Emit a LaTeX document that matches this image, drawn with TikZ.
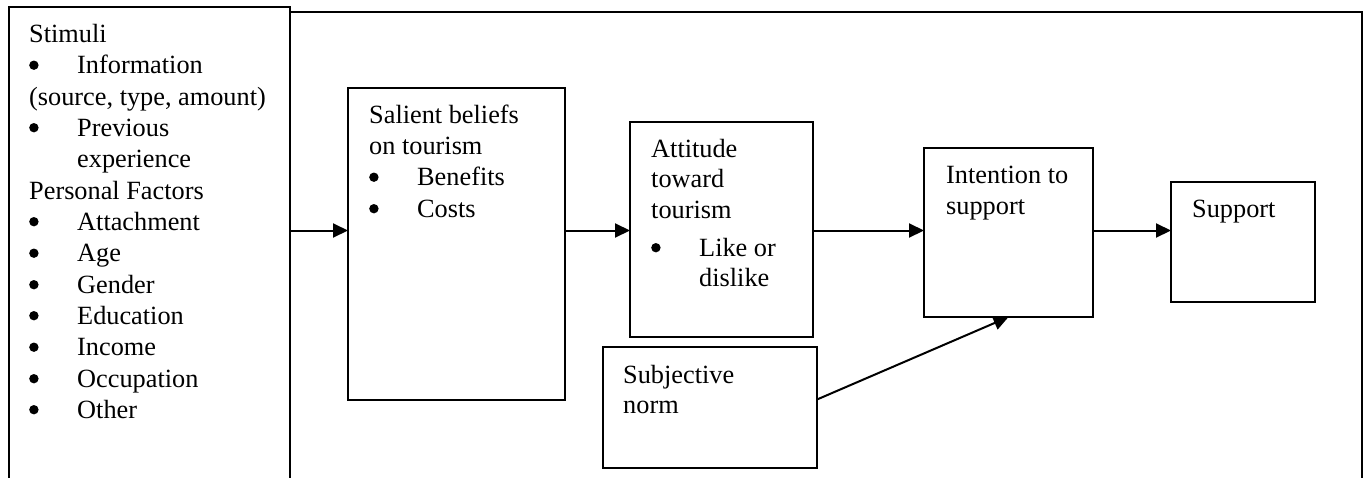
\documentclass[tikz,border=0pt]{standalone}
\usepackage{fontspec}
\setmainfont{Liberation Serif}
\usetikzlibrary{arrows.meta}
\newcommand{\bul}{\makebox[48pt][l]{\tikz[baseline=0pt]\fill (0pt,0pt) ++(4.7pt,8.3pt) circle (4.7pt);}}
\begin{document}
\begin{tikzpicture}[x=1pt,y=-1pt,
  box/.style={draw,line width=2pt,rectangle,inner sep=0pt,outer sep=0pt,anchor=north west,fill=white},
  txt/.style={anchor=base west,inner sep=0pt,font=\fontsize{26.3}{31}\selectfont},
  arr/.style={line width=2pt,-{Triangle[length=15pt,width=14pt]}}]
\clip (0,0) rectangle (1367,477);
% outer frame and boxes
\node[box,minimum width=1353pt,minimum height=520pt] (outer) at (9,12) {};
\node[box,minimum width=281pt,minimum height=520pt] (left) at (9,7) {};
\node[box,minimum width=217pt,minimum height=312pt] (sal) at (348,88) {};
\node[box,minimum width=183pt,minimum height=215pt] (att) at (630,122) {};
\node[box,minimum width=214pt,minimum height=121pt] (sub) at (603,347) {};
\node[box,minimum width=169pt,minimum height=169pt] (int) at (924,148) {};
\node[box,minimum width=144pt,minimum height=120pt] (sup) at (1171,182) {};
% left box text
\node[txt] (l1) at (29,42) {Stimuli};
\node[txt] (l2) at (29,73.5) {\bul Information};
\node[txt] (l3) at (29,105) {(source, type, amount)};
\node[txt] (l4) at (29,136) {\bul Previous};
\node[txt] (l5) at (77,167.5) {experience};
\node[txt] (l6) at (29,199) {Personal Factors};
\node[txt] (l7) at (29,230) {\bul Attachment};
\node[txt] (l8) at (29,261.5) {\bul Age};
\node[txt] (l9) at (29,293) {\bul Gender};
\node[txt] (l10) at (29,324) {\bul Education};
\node[txt] (l11) at (29,355.5) {\bul Income};
\node[txt] (l12) at (29,387) {\bul Occupation};
\node[txt] (l13) at (29,418) {\bul Other};
% salient beliefs
\node[txt] (s1) at (369,123) {Salient beliefs};
\node[txt] (s2) at (369,154) {on tourism};
\node[txt] (s3) at (369,185.5) {\bul Benefits};
\node[txt] (s4) at (369,217) {\bul Costs};
% attitude
\node[txt] (a1) at (651,157) {Attitude};
\node[txt] (a2) at (651,187.5) {toward};
\node[txt] (a3) at (651,218) {tourism};
\node[txt] (a4) at (651,256) {\bul Like or};
\node[txt] (a5) at (699,286.5) {dislike};
% subjective norm
\node[txt] (n1) at (623,383) {Subjective};
\node[txt] (n2) at (623,413.5) {norm};
% intention
\node[txt] (i1) at (946,183) {Intention to};
\node[txt] (i2) at (946,214) {support};
% support
\node[txt] (p1) at (1192,217) {Support};
% connectors
\coordinate (row) at (0,230.5);
\draw[arr] (left.east |- row) -- (sal.west |- row);
\draw[arr] (sal.east |- row) -- (att.west |- row);
\draw[arr] (att.east |- row) -- (int.west |- row);
\draw[arr] (int.east |- row) -- (sup.west |- row);
\draw[arr] ([yshift=8pt]sub.east) -- (int.south);
\end{tikzpicture}
\end{document}
